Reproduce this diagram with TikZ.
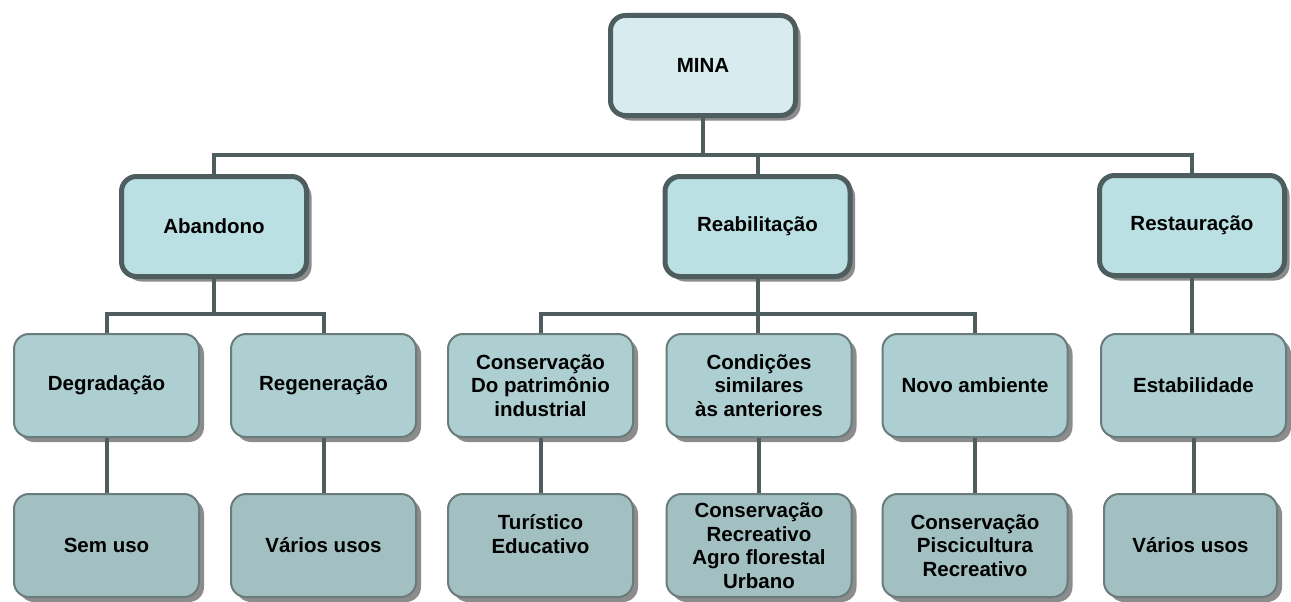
\documentclass[tikz,border=0pt]{standalone}
\usepackage{fontspec}
\setmainfont{Liberation Sans}
\usetikzlibrary{shadows}
\definecolor{cmina}{HTML}{D8ECEF}
\definecolor{cone}{HTML}{BBE0E4}
\definecolor{ctwo}{HTML}{ADCFD2}
\definecolor{cthree}{HTML}{A2C0C2}
\definecolor{cdark}{HTML}{4E5D5E}
\definecolor{cthin}{HTML}{6A7B7C}
\definecolor{cshadow}{HTML}{8C8C8C}
\tikzset{
  box/.style={rounded corners=15pt, align=center, font=\fontsize{20.5}{23.5}\selectfont\bfseries,
    text=black, inner sep=0pt,
    drop shadow={shadow xshift=5pt, shadow yshift=-5pt, fill=cshadow, opacity=1}},
  thickbox/.style={box, draw=cdark, line width=5pt, minimum width=185pt, minimum height=100pt},
  thinbox/.style={box, draw=cthin, line width=2pt, minimum width=185pt, minimum height=103pt},
  conn/.style={draw=cdark, line width=4pt}
}
\begin{document}
\begin{tikzpicture}[x=1pt,y=-1pt]
\useasboundingbox[fill=white] (0,0) rectangle (1291,602);
% top
\node[thickbox, fill=cmina] (mina) at (703,65.5) {MINA};
% level 1
\node[thickbox, fill=cone] (aband) at (214,226.5) {Abandono};
\node[thickbox, fill=cone] (reab) at (757.5,226.5) {Reabilitação};
\node[thickbox, fill=cone] (rest) at (1192,225.5) {Restauração};
% level 2
\node[thinbox, fill=ctwo] (degr) at (106.5,385.5) {Degradação};
\node[thinbox, fill=ctwo] (regen) at (323.5,385.5) {Regeneração};
\node[thinbox, fill=ctwo] (cons) at (540.5,385.5) {Conservação\\Do patrimônio\\industrial};
\node[thinbox, fill=ctwo] (cond) at (759,385.5) {Condições\\similares\\às anteriores};
\node[thinbox, fill=ctwo] (novo) at (975,385.5) {Novo ambiente};
\node[thinbox, fill=ctwo] (estab) at (1193.5,385.5) {Estabilidade};
% level 3
\node[thinbox, fill=cthree] (sem) at (106.5,545.5) {Sem uso};
\node[thinbox, fill=cthree] (varA) at (323.5,545.5) {Vários usos};
\node[thinbox, fill=cthree] (tur) at (540.5,545.5) {Turístico\\Educativo\\\mbox{}};
\node[thinbox, fill=cthree] (rec) at (759,545.5) {Conservação\\Recreativo\\Agro florestal\\Urbano};
\node[thinbox, fill=cthree] (pisc) at (975,545.5) {Conservação\\Piscicultura\\Recreativo};
\node[thinbox, fill=cthree, minimum width=173pt] (varB) at (1190.5,545.5) {Vários usos};
% buses
\coordinate (b1) at (703,154.5);
\coordinate (b2) at (757.5,313.5);
\coordinate (b3) at (214,313.5);
% connectors
\draw[conn] (mina.south) -- (b1);
\draw[conn] (aband.north) |- (b1) -| (rest.north);
\draw[conn] (reab.north) -- (reab.north |- b1);
\draw[conn] (aband.south) -- (b3);
\draw[conn] (degr.north) |- (b3) -| (regen.north);
\draw[conn] (reab.south) -- (b2);
\draw[conn] (cons.north) |- (b2) -| (novo.north);
\draw[conn] (b2) -- (b2 |- cond.north);
\draw[conn] (rest.south) -- (rest.south |- estab.north);
\draw[conn] (degr.south) -- (sem.north);
\draw[conn] (regen.south) -- (varA.north);
\draw[conn] (cons.south) -- (tur.north);
\draw[conn] (cond.south) -- (cond.south |- rec.north);
\draw[conn] (novo.south) -- (pisc.north);
\draw[conn] (estab.south) -- (estab.south |- varB.north);
\end{tikzpicture}
\end{document}
